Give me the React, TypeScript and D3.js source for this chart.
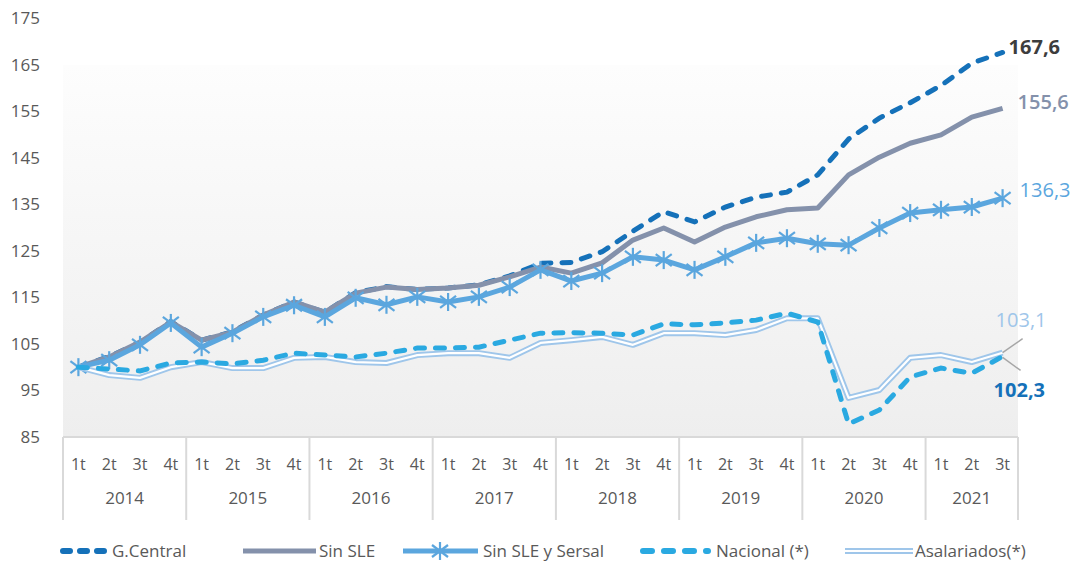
import React from 'react';
import * as d3 from 'd3';

// quarterly index, 1t 2014 = 100
const years = ['2014', '2015', '2016', '2017', '2018', '2019', '2020', '2021'];
const quarters = ['1t', '2t', '3t', '4t'];
const quartersPerYear = [4, 4, 4, 4, 4, 4, 4, 3];
const yTicks = [85, 95, 105, 115, 125, 135, 145, 155, 165, 175];

const gCentral = [100, 102.3, 105.3, 109.8, 105.8, 107.6, 111.2, 114, 111.8, 116, 117.3, 116.7, 117, 117.7, 119.6, 122.3,
  122.5, 124.8, 129.2, 133.4, 131.2, 134.4, 136.5, 137.6, 141.3, 149, 153.5, 156.8, 160.5, 165.3, 167.6];
const sinSLE = [100, 102.2, 105.4, 109.7, 105.8, 107.5, 111.2, 114, 111.8, 115.9, 117.2, 116.7, 117, 117.6, 119.4, 121.5,
  120.2, 122.4, 127.3, 129.9, 126.9, 130.1, 132.3, 133.8, 134.2, 141.3, 145.1, 148.1, 149.9, 153.7, 155.6];
const sinSLESersal = [100, 101.5, 104.8, 109.5, 104.3, 107.3, 110.8, 113.3, 110.8, 114.9, 113.4, 115.1, 114, 115.1, 117.2, 120.9,
  118.5, 120.2, 123.7, 123, 120.9, 123.7, 126.7, 127.7, 126.5, 126.2, 129.9, 133.1, 133.8, 134.4, 136.3];
const nacional = [100, 99.6, 99.2, 100.9, 101.1, 100.7, 101.5, 103, 102.6, 102.2, 103, 104.1, 104.1, 104.3, 105.8, 107.3,
  107.4, 107.3, 106.9, 109.3, 109.1, 109.5, 110.1, 111.6, 109.7, 87.8, 90.8, 97.9, 99.8, 98.7, 102.3];
const asalariados = [100, 98.3, 97.7, 100, 101.1, 99.8, 99.8, 102, 102.2, 101.1, 100.9, 102.6, 103, 103, 102, 105.2,
  105.8, 106.5, 104.8, 107.3, 107.3, 106.9, 108, 110.5, 110.5, 93.4, 95.1, 102, 102.6, 101.1, 103.1];

const legendNames = ['G.Central', 'Sin SLE', 'Sin SLE y Sersal', 'Nacional (*)', 'Asalariados(*)'];
const endLabels = ['167,6', '155,6', '136,3', '103,1', '102,3'];

const W = 1082;
const H = 569;
const FONT = '"Open Sans", "Noto Sans", sans-serif';
const TXT = '#595959';
const AX = '#d9d9d9';
const C_GC = '#1571b9';
const C_SLE = '#8491ab';
const C_SER = '#5ba6de';
const C_NAC = '#2aa9e1';
const C_ASA = '#9fc6ea';

const periods: { year: string; q: string }[] = [];
years.forEach((yr, i) => quarters.slice(0, quartersPerYear[i]).forEach(q => periods.push({ year: yr, q })));

const x = d3.scaleBand<number>().domain(periods.map((_, i) => i)).range([63, 1018]).padding(0);
const y = d3.scaleLinear().domain([85, 175]).range([437, 18]);
const cx = (i: number) => (x(i) as number) + x.bandwidth() / 2;
const line = d3.line<number>().x((_, i) => cx(i)).y(d => y(d));

function Star({ px, py }: { px: number; py: number }) {
  return (
    <g transform={`translate(${px},${py})`} stroke={C_SER} strokeWidth={2.2}>
      <line x1={0} y1={-9} x2={0} y2={9} />
      <line x1={-8} y1={-6} x2={8} y2={6} />
      <line x1={-8} y1={6} x2={8} y2={-6} />
    </g>
  );
}

function App() {
  const n = periods.length - 1;
  const lastX = cx(n);

  // year boundaries
  const bounds: number[] = [63];
  let acc = 0;
  quartersPerYear.forEach(c => { acc += c; bounds.push((x(acc - 1) as number) + x.bandwidth()); });

  const legendX = [60, 243, 403, 640, 845];

  return (
    <svg width={W} height={H} style={{ position: 'absolute', left: 0, top: 0, background: '#fff' }}>
      <defs>
        <linearGradient id="bg" x1="0" y1="0" x2="0" y2="1">
          <stop offset="0" stopColor="#fdfdfd" />
          <stop offset="1" stopColor="#eeeeee" />
        </linearGradient>
      </defs>
      <rect x={63} y={65} width={1018 - 63} height={437 - 65} fill="url(#bg)" />

      {yTicks.map(t => (
        <text key={t} x={40} y={y(t)} dy="0.35em" textAnchor="end" fontFamily={FONT} fontSize={17} fill={TXT}>{t}</text>
      ))}

      <line x1={63} x2={1018} y1={437} y2={437} stroke={AX} strokeWidth={2} />
      {bounds.map((b, i) => (
        <line key={i} x1={b} x2={b} y1={437} y2={520} stroke={AX} strokeWidth={2} />
      ))}
      {periods.map((p, i) => (
        <text key={i} x={cx(i)} y={464} dy="0.35em" textAnchor="middle" fontFamily={FONT} fontSize={16} fill={TXT}>{p.q}</text>
      ))}
      {years.map((yr, i) => (
        <text key={yr} x={(bounds[i] + bounds[i + 1]) / 2} y={498} dy="0.35em" textAnchor="middle" fontFamily={FONT} fontSize={17} fill={TXT}>{yr}</text>
      ))}

      {/* series */}
      <path d={line(gCentral) || ''} fill="none" stroke={C_GC} strokeWidth={5} strokeDasharray="9 11" strokeLinecap="round" />
      <path d={line(sinSLE) || ''} fill="none" stroke={C_SLE} strokeWidth={5} strokeLinejoin="round" />
      <path d={line(sinSLESersal) || ''} fill="none" stroke={C_SER} strokeWidth={5} strokeLinejoin="round" />
      {sinSLESersal.map((v, i) => <Star key={i} px={cx(i)} py={y(v)} />)}
      <path d={line(asalariados) || ''} fill="none" stroke={C_ASA} strokeWidth={6} strokeLinejoin="round" />
      <path d={line(asalariados) || ''} fill="none" stroke="#fff" strokeWidth={2.2} strokeLinejoin="round" />
      <path d={line(nacional) || ''} fill="none" stroke={C_NAC} strokeWidth={5} strokeDasharray="9 11" strokeLinecap="round" />

      {/* end labels */}
      <text x={lastX + 6} y={y(gCentral[n]) - 5} dy="0.35em" fontFamily={FONT} fontSize={20} fontWeight={700} fill="#3d3d3d">{endLabels[0]}</text>
      <text x={lastX + 15} y={y(sinSLE[n]) - 6} dy="0.35em" fontFamily={FONT} fontSize={20} fontWeight={600} fill={C_SLE}>{endLabels[1]}</text>
      <text x={lastX + 17} y={y(sinSLESersal[n]) - 8} dy="0.35em" fontFamily={FONT} fontSize={20} fontWeight={500} fill={C_SER}>{endLabels[2]}</text>
      <text x={lastX - 7} y={y(asalariados[n]) - 33} dy="0.35em" fontFamily={FONT} fontSize={20} fontWeight={500} fill={C_ASA}>{endLabels[3]}</text>
      <text x={lastX - 9} y={y(nacional[n]) + 34} dy="0.35em" fontFamily={FONT} fontSize={20} fontWeight={700} fill={C_GC}>{endLabels[4]}</text>
      <line x1={lastX} y1={y(asalariados[n])} x2={lastX + 20} y2={y(asalariados[n]) - 14} stroke="#a6a6a6" strokeWidth={1.5} />
      <line x1={lastX} y1={y(nacional[n]) + 1} x2={lastX + 18} y2={y(nacional[n]) + 14} stroke="#a6a6a6" strokeWidth={1.5} />

      {/* legend */}
      <g fontFamily={FONT} fontSize={17} fill={TXT}>
        <line x1={legendX[0] + 3} x2={legendX[0] + 44} y1={551} y2={551} stroke={C_GC} strokeWidth={6} strokeDasharray="7 10" strokeLinecap="round" />
        <text x={112} y={551} dy="0.35em">{legendNames[0]}</text>
        <line x1={legendX[1]} x2={legendX[1] + 73} y1={551} y2={551} stroke={C_SLE} strokeWidth={5} />
        <text x={319} y={551} dy="0.35em">{legendNames[1]}</text>
        <line x1={legendX[2]} x2={legendX[2] + 75} y1={551} y2={551} stroke={C_SER} strokeWidth={5} />
        <Star px={legendX[2] + 37} py={551} />
        <text x={483} y={551} dy="0.35em">{legendNames[2]}</text>
        <line x1={legendX[3] + 3} x2={legendX[3] + 68} y1={551} y2={551} stroke={C_NAC} strokeWidth={6} strokeDasharray="9 12" strokeLinecap="round" />
        <text x={716} y={551} dy="0.35em">{legendNames[3]}</text>
        <line x1={legendX[4]} x2={legendX[4] + 68} y1={551} y2={551} stroke={C_ASA} strokeWidth={6} />
        <line x1={legendX[4]} x2={legendX[4] + 68} y1={551} y2={551} stroke="#fff" strokeWidth={2.2} />
        <text x={915} y={551} dy="0.35em">{legendNames[4]}</text>
      </g>
    </svg>
  );
}

export default App;
